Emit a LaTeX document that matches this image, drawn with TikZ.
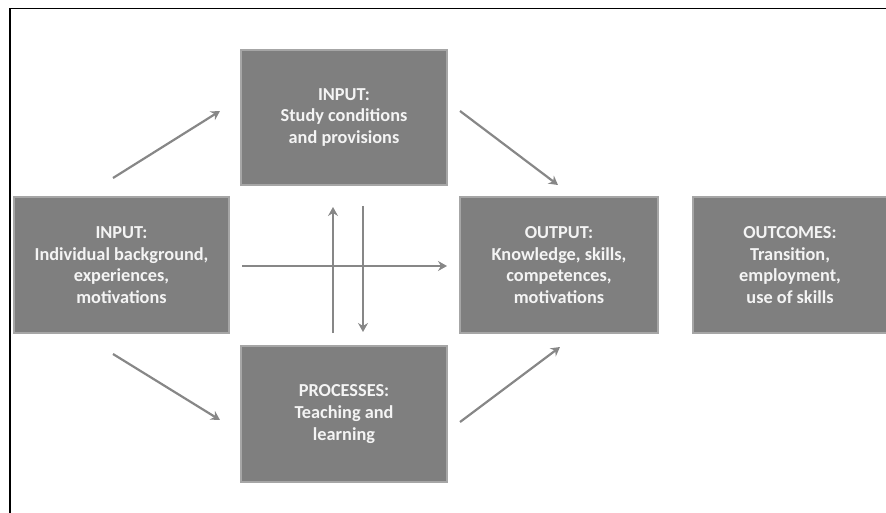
\documentclass[tikz,border=0pt]{standalone}
\usepackage{fontspec}
\setmainfont{Carlito}
\usetikzlibrary{arrows.meta}
\definecolor{boxfill}{HTML}{7F7F7F}
\definecolor{boxline}{HTML}{A6A6A6}
\definecolor{arrowgray}{HTML}{878787}
\definecolor{txt}{HTML}{F4F4F4}
\tikzset{
  blockbox/.style={draw=boxline, fill=boxfill, line width=2pt, inner sep=0pt, outer sep=0pt,
    text=txt, align=center, font=\fontsize{18.3}{21.6}\selectfont\bfseries},
  flow/.style={draw=arrowgray, line width=2.2pt, -{Stealth[length=9pt,width=10pt,inset=3pt]}}
}
\begin{document}
\begin{tikzpicture}[x=1pt,y=-1pt]
\useasboundingbox (0,0) rectangle (886,513);
% frame (top and left visible)
\draw[black, line width=1.8pt] (10,520) -- (10,8.5) -- (900,8.5);
% boxes
\node[blockbox, minimum width=215pt, minimum height=136pt] (L) at (121.5,265) {INPUT:\\Individual background,\\experiences,\\motivations};
\node[blockbox, minimum width=206pt, minimum height=135pt] (T) at (344,117.5) {INPUT:\\Study conditions\\and provisions};
\node[blockbox, minimum width=206pt, minimum height=136pt] (B) at (344,414) {PROCESSES:\\Teaching and\\learning};
\node[blockbox, minimum width=198pt, minimum height=136pt] (O) at (559,265) {OUTPUT:\\Knowledge, skills,\\competences,\\motivations};
\node[blockbox, minimum width=194pt, minimum height=136pt] (OC) at (790,265) {OUTCOMES:\\Transition,\\employment,\\use of skills};
% arrow end points
\coordinate (a1s) at (113,178); \coordinate (a1e) at (220,111);
\coordinate (a2s) at (460,111); \coordinate (a2e) at (558,185);
\coordinate (a3s) at (113,354); \coordinate (a3e) at (220,420);
\coordinate (a4s) at (460,422); \coordinate (a4e) at (560,347);
\coordinate (hs) at (242,266); \coordinate (he) at (447,266);
\coordinate (us) at (333,333); \coordinate (ue) at (333,207);
\coordinate (ds) at (363,206); \coordinate (de) at (363,332);
% arrows
\draw[flow] (a1s) -- (a1e);
\draw[flow] (a2s) -- (a2e);
\draw[flow] (a3s) -- (a3e);
\draw[flow] (a4s) -- (a4e);
\draw[flow] (hs) -- (he);
\draw[flow] (us) -- (ue);
\draw[flow] (ds) -- (de);
\end{tikzpicture}
\end{document}
